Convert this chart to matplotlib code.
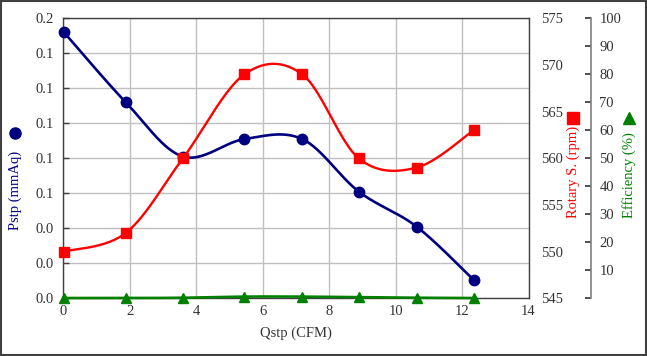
import numpy as np
import matplotlib
matplotlib.use("Agg")
import matplotlib.pyplot as plt
from matplotlib.patches import Rectangle
from matplotlib.lines import Line2D

# ---- data ----
qstp = [0.02, 1.88, 3.6, 5.45, 7.19, 8.89, 10.63, 12.35]
pstp = [0.152, 0.112, 0.081, 0.091, 0.091, 0.061, 0.041, 0.0105]
rotary = [550.0, 552.0, 560.0, 569.0, 569.0, 560.0, 559.0, 563.0]
efficiency = [0.1, 0.1, 0.2, 0.6, 0.6, 0.4, 0.2, 0.1]

x_ticks = [0, 2, 4, 6, 8, 10, 12, 14]
p_ticks = [0.0, 0.02, 0.04, 0.06, 0.08, 0.10, 0.12, 0.14, 0.16]
p_labels = ["0.0", "0.0", "0.0", "0.1", "0.1", "0.1", "0.1", "0.1", "0.2"]
r_ticks = [545, 550, 555, 560, 565, 570, 575]
e_ticks = [0, 10, 20, 30, 40, 50, 60, 70, 80, 90, 100]
e_labels = [""] + [str(v) for v in e_ticks[1:]]

SERIF = ["Liberation Serif", "DejaVu Serif"]
plt.rcParams["font.family"] = SERIF
FS = 10.5


def smooth(xs, ys, n=30):
    """Excel-like Catmull-Rom/Bezier smoothing through the given points."""
    P = np.column_stack([xs, ys]).astype(float)
    m = len(P)
    out = [P[0]]
    for i in range(m - 1):
        p0 = P[i - 1] if i > 0 else P[i]
        p1 = P[i]
        p2 = P[i + 1]
        p3 = P[i + 2] if i + 2 < m else P[i + 1]
        c1 = p1 + (p2 - p0) / 6.0
        c2 = p2 - (p3 - p1) / 6.0
        t = np.linspace(0, 1, n)[1:, None]
        seg = ((1 - t) ** 3) * p1 + 3 * ((1 - t) ** 2) * t * c1 + 3 * (1 - t) * t ** 2 * c2 + t ** 3 * p2
        out.extend(seg)
    out = np.array(out)
    return out[:, 0], out[:, 1]


W, H = 647, 356
fig = plt.figure(figsize=(W / 100, H / 100), dpi=100)
L, R, B, T = 63.3 / W, 528.5 / W, 1 - 298.3 / H, 1 - 18.3 / H
ax = fig.add_axes([L, B, R - L, T - B])

GRID = "#c0c0c0"
SPINE = "#404040"

ax.set_xlim(0, 14)
ax.set_ylim(0, 0.16)
ax.set_xticks(x_ticks)
ax.set_yticks(p_ticks)
ax.set_yticklabels(p_labels)
ax.grid(True, color=GRID, linewidth=1.0)
ax.set_axisbelow(True)
ax.tick_params(axis="y", direction="in", length=4, width=1, color=SPINE,
               labelsize=FS, labelcolor="#333333", pad=7)
ax.tick_params(axis="x", length=0, labelsize=FS, labelcolor="#333333", pad=5)
for s in ax.spines.values():
    s.set_color(SPINE)
    s.set_linewidth(1.0)
ax.set_xlabel("Qstp (CFM)", fontsize=FS, color="#333333", labelpad=6)

xs, ys = smooth(qstp, pstp)
ax.plot(xs, ys, color="#000080", lw=1.9, zorder=3, clip_on=False)
ax.plot(qstp, pstp, ls="none", marker="o", ms=7.5, color="#000080", zorder=4, clip_on=False)

# Rotary axis
ax2 = ax.twinx()
ax2.set_ylim(545, 575)
ax2.set_yticks(r_ticks)
ax2.tick_params(axis="y", length=0, labelsize=FS, labelcolor="#333333", pad=9)
for s in ax2.spines.values():
    s.set_visible(False)
xs, ys = smooth(qstp, rotary)
ax2.plot(xs, ys, color="#ff0000", lw=1.7, zorder=3, clip_on=False)
ax2.plot(qstp, rotary, ls="none", marker="s", ms=7.5, color="#ff0000", zorder=4, clip_on=False)

# Efficiency axis
ax3 = ax.twinx()
ax3.set_ylim(0, 100)
ax3.set_yticks(e_ticks)
ax3.set_yticklabels(e_labels)
for k, s in ax3.spines.items():
    s.set_visible(k == "right")
ax3.spines["right"].set_position(("axes", (591 - 63.3) / (528.5 - 63.3)))
ax3.spines["right"].set_color("#808080")
ax3.spines["right"].set_linewidth(1.2)
ax3.tick_params(axis="y", direction="in", length=4, width=1.2, color="#333333",
                labelsize=FS, labelcolor="#333333", pad=6)
xs, ys = smooth(qstp, efficiency)
ax3.plot(xs, ys, color="#008000", lw=1.9, zorder=3, clip_on=False)
ax3.plot(qstp, efficiency, ls="none", marker="^", ms=7, color="#008000", zorder=4, clip_on=False)

# axis titles with legend symbols
fig.text(15 / W, 1 - 190 / H, "Pstp (mmAq)", rotation=90, ha="center", va="center",
         fontsize=FS, color="#000080")
fig.add_artist(Line2D([15 / W], [1 - 133 / H], transform=fig.transFigure, ls="none",
                      marker="o", ms=8, color="#000080"))
fig.text(573 / W, 1 - 172 / H, "Rotary S. (rpm)", rotation=90, ha="center", va="center",
         fontsize=FS, color="#ff0000")
fig.add_artist(Line2D([573 / W], [1 - 118 / H], transform=fig.transFigure, ls="none",
                      marker="s", ms=8, color="#ff0000"))
fig.text(629 / W, 1 - 175 / H, "Efficiency (%)", rotation=90, ha="center", va="center",
         fontsize=FS, color="#008000")
fig.add_artist(Line2D([629 / W], [1 - 118 / H], transform=fig.transFigure, ls="none",
                      marker="^", ms=8, color="#008000"))

# figure border
fig.patches.append(Rectangle((0.0015, 0.003), 0.997, 0.994, transform=fig.transFigure,
                             fill=False, edgecolor="#404040", linewidth=1.5))

fig.savefig("out.png", dpi=100)
